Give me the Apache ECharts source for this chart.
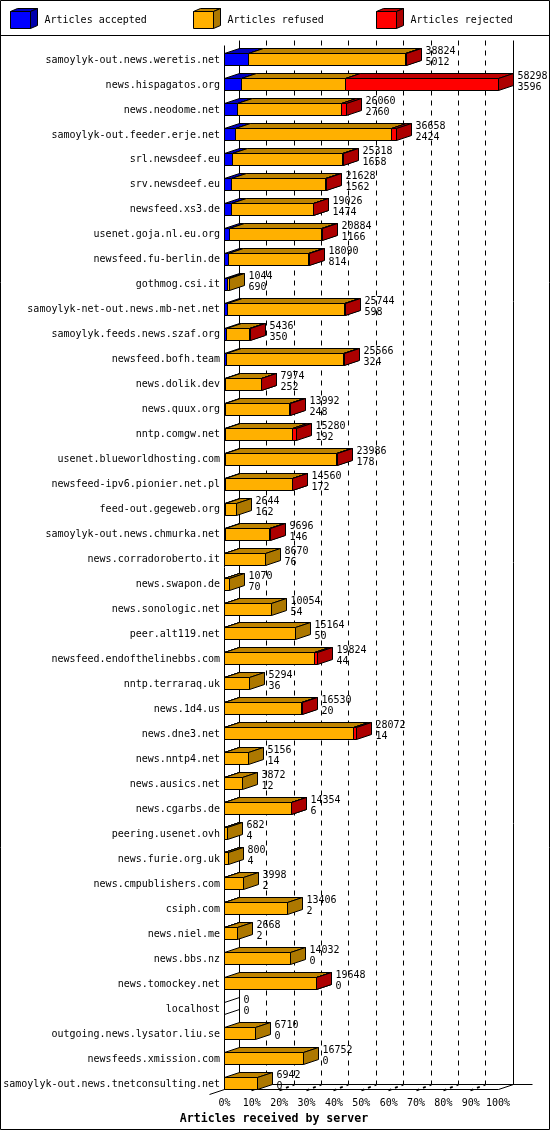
<!DOCTYPE html>
<html>
<head>
<meta charset="utf-8">
<script src="https://cdn.jsdelivr.net/npm/echarts@6/dist/echarts.min.js"></script>
<style>html,body{margin:0;padding:0;background:#fff}#c{width:550px;height:1130px}</style>
</head>
<body>
<div id="c"></div>
<script>
const servers = ['samoylyk-out.news.weretis.net','news.hispagatos.org','news.neodome.net','samoylyk-out.feeder.erje.net','srl.newsdeef.eu','srv.newsdeef.eu','newsfeed.xs3.de','usenet.goja.nl.eu.org','newsfeed.fu-berlin.de','gothmog.csi.it','samoylyk-net-out.news.mb-net.net','samoylyk.feeds.news.szaf.org','newsfeed.bofh.team','news.dolik.dev','news.quux.org','nntp.comgw.net','usenet.blueworldhosting.com','newsfeed-ipv6.pionier.net.pl','feed-out.gegeweb.org','samoylyk-out.news.chmurka.net','news.corradoroberto.it','news.swapon.de','news.sonologic.net','peer.alt119.net','newsfeed.endofthelinebbs.com','nntp.terraraq.uk','news.1d4.us','news.dne3.net','news.nntp4.net','news.ausics.net','news.cgarbs.de','peering.usenet.ovh','news.furie.org.uk','news.cmpublishers.com','csiph.com','news.niel.me','news.bbs.nz','news.tomockey.net','localhost','outgoing.news.lysator.liu.se','newsfeeds.xmission.com','samoylyk-out.news.tnetconsulting.net'];
const received = [38824,58298,26060,36658,25318,21628,19026,20884,18090,1044,25744,5436,25566,7974,13992,15280,23986,14560,2644,9696,8670,1070,10054,15164,19824,5294,16530,28072,5156,3872,14354,682,800,3998,13406,2668,14032,19648,0,6710,16752,6942];
const accepted = [5012,3596,2760,2424,1658,1562,1474,1166,814,690,598,350,324,252,248,192,178,172,162,146,76,70,54,50,44,36,20,14,14,12,6,4,4,2,2,2,0,0,0,0,0,0];
const refused = [33612,22252,22200,33184,23580,20006,17402,19598,17126,354,25046,5046,25022,7692,13694,14388,23608,14348,2482,9500,8594,1000,10000,15114,19130,5258,16480,27408,5142,3860,14318,678,796,3996,13404,2666,14032,19598,0,6710,16752,6942];
const rejected = [200,32450,1100,1050,80,60,150,120,150,0,100,40,220,30,50,700,200,40,0,50,0,0,0,0,650,0,30,650,0,0,30,0,0,0,0,0,0,50,0,0,0,0];
const percentTicks = [0,10,20,30,40,50,60,70,80,90,100];
const legendNames = ['Articles accepted','Articles refused','Articles rejected'];
const axisTitle = 'Articles received by server';
const axisMax = 58298;

const C = {
  accepted: ['#0000ff', '#0000bf', '#0000ad'],
  refused: ['#ffb000', '#bf8400', '#ad7800'],
  rejected: ['#ff0000', '#bf0000', '#ad0000']
};
const MONO = '"DejaVu Sans Mono","Liberation Mono",monospace';
const DX = 15, DY = 5, BH = 12;
const snap = v => Math.floor(v) + 0.5;
const line = (x1, y1, x2, y2, extra) => ({
  type: 'line',
  shape: { x1, y1, x2, y2 },
  style: Object.assign({ stroke: '#000', lineWidth: 1 }, extra || {})
});
const poly = (pts, fill) => ({
  type: 'polygon',
  shape: { points: pts },
  style: { fill, stroke: '#000', lineWidth: 1 }
});

function segmentRenderer(colors, isLast) {
  return function (params, api) {
    const start = api.value(0), end = api.value(1), row = api.value(2);
    const cy = Math.round(api.coord([0, row])[1]);
    const top = cy - BH / 2 + 0.5, bot = cy + BH / 2 + 0.5;
    const x0 = snap(api.coord([start, row])[0]);
    const x1 = snap(api.coord([end, row])[0]);
    if (end === start) {
      if (isLast && end === 0) {
        return { type: 'group', children: [
          line(x0, top, x0 + DX, top - DY),
          line(x0, bot, x0 + DX, bot - DY)
        ]};
      }
      return null;
    }
    return { type: 'group', children: [
      poly([[x0, top], [x0 + DX, top - DY], [x1 + DX, top - DY], [x1, top]], colors[1]),
      poly([[x1, top], [x1 + DX, top - DY], [x1 + DX, bot - DY], [x1, bot]], colors[2]),
      poly([[x0, top], [x1, top], [x1, bot], [x0, bot]], colors[0])
    ]};
  };
}

function frameRenderer(params, api) {
  const pct = api.value(0);
  const x = snap(api.coord([pct / 100 * axisMax, 0])[0]);
  const firstC = Math.round(api.coord([0, 0])[1]);
  const lastC = Math.round(api.coord([0, servers.length - 1])[1]);
  const floorY = lastC + BH / 2 + 0.5;
  const topY = firstC - 14 + 0.5;
  const kids = [];
  const bx = x + DX, by = floorY - DY;
  if (pct === 0 || pct === 100) {
    kids.push(line(bx, topY - DY, bx, by));
    kids.push(line(x, floorY, bx, by));
  } else {
    kids.push(line(bx, topY - DY, bx, by, { lineDash: [5, 5] }));
    kids.push(line(x, floorY + 1, bx, by, { lineDash: [3, 4], lineWidth: 1.8 }));
  }
  if (pct === 0) {
    kids.push(line(x, topY, x, floorY));
    kids.push(line(x - DX, floorY + DY, x, floorY));
    kids.push(line(x, floorY, snap(api.coord([axisMax, 0])[0]), floorY));
    kids.push(line(bx, by, snap(api.coord([axisMax, 0])[0]) + DX + 19, by));
  }
  return { type: 'group', children: kids };
}

function labelRenderer(params, api) {
  const row = api.value(0), total = api.value(1), acc = api.value(2);
  const c = api.coord([total, row]);
  const cy = Math.round(c[1]);
  const x = snap(c[0]) + DX + 4;
  const t = (text, y) => ({
    type: 'text',
    x, y,
    style: { text: String(text), fill: '#000', font: '10px ' + MONO, textAlign: 'left', textVerticalAlign: 'middle' }
  });
  return { type: 'group', children: [t(total, cy - 8), t(acc, cy + 3)] };
}

let cumA = [], cumB = [], cumC = [];
servers.forEach((s, i) => {
  const a = accepted[i], b = a + refused[i], c = b + rejected[i];
  cumA.push([0, a, i]);
  cumB.push([a, b, i]);
  cumC.push([b, c, i]);
});

function legendSwatch(x, colors) {
  const f = [x, 11.5], w = 20, h = 17, dx = 7, dy = 3;
  const p = (pts, fill) => ({ type: 'polygon', shape: { points: pts }, style: { fill, stroke: '#000', lineWidth: 1 } });
  return [
    p([[f[0], f[1]], [f[0] + dx, f[1] - dy], [f[0] + w + dx, f[1] - dy], [f[0] + w, f[1]]], colors[1]),
    p([[f[0] + w, f[1]], [f[0] + w + dx, f[1] - dy], [f[0] + w + dx, f[1] + h - dy], [f[0] + w, f[1] + h]], colors[2]),
    p([[f[0], f[1]], [f[0] + w, f[1]], [f[0] + w, f[1] + h], [f[0], f[1] + h]], colors[0])
  ];
}
const legendText = (x, text) => ({
  type: 'text', x, y: 20,
  style: { text, fill: '#000', font: '10px ' + MONO, textAlign: 'left', textVerticalAlign: 'middle' }
});

const chart = echarts.init(document.getElementById('c'), null, { renderer: 'canvas', width: 550, height: 1130 });
chart.setOption({
  animation: false,
  backgroundColor: '#fff',
  textStyle: { fontFamily: MONO },
  grid: { left: 224.5, right: 51.9, top: 46.5, bottom: 33.5, containLabel: false },
  xAxis: {
    type: 'value', min: 0, max: axisMax, interval: axisMax / 10,
    axisLine: { show: false }, axisTick: { show: false }, splitLine: { show: false },
    axisLabel: {
      color: '#000', fontFamily: MONO, fontSize: 10, margin: 2.5, showMinLabel: true, showMaxLabel: true,
      formatter: v => Math.round(v / axisMax * 100) + '%'
    },
    name: axisTitle, nameLocation: 'middle', nameGap: 14,
    nameTextStyle: { color: '#000', fontFamily: MONO, fontWeight: 'bold', fontSize: 11.6, padding: [0, 0, 0, -174.6] }
  },
  yAxis: {
    type: 'category', inverse: true, data: servers,
    axisLine: { show: false }, axisTick: { show: false }, splitLine: { show: false },
    axisLabel: { color: '#000', fontFamily: MONO, fontSize: 10, margin: 4.5, interval: 0, verticalAlign: 'top', lineHeight: 2 }
  },
  graphic: [
    { type: 'group', silent: true, children: [
      { type: 'rect', shape: { x: 0.5, y: 0.5, width: 549, height: 1129 }, style: { fill: 'none', stroke: '#000', lineWidth: 1 } },
      { type: 'line', shape: { x1: 0, y1: 35.5, x2: 550, y2: 35.5 }, style: { stroke: '#000', lineWidth: 1 } },
      ...legendSwatch(10.5, C.accepted), legendText(44.5, legendNames[0]),
      ...legendSwatch(193.5, C.refused), legendText(227.5, legendNames[1]),
      ...legendSwatch(376.5, C.rejected), legendText(410.5, legendNames[2])
    ]}
  ],
  series: [
    { type: 'custom', name: 'frame', silent: true, z: 1, clip: false, renderItem: frameRenderer, coordinateSystem: 'cartesian2d',
      encode: { x: 0 }, data: percentTicks.map(p => [p]) },
    { type: 'custom', name: legendNames[0], silent: true, z: 3, clip: false, renderItem: segmentRenderer(C.accepted, false),
      encode: { x: [0, 1], y: 2 }, data: cumA },
    { type: 'custom', name: legendNames[1], silent: true, z: 4, clip: false, renderItem: segmentRenderer(C.refused, false),
      encode: { x: [0, 1], y: 2 }, data: cumB },
    { type: 'custom', name: legendNames[2], silent: true, z: 5, clip: false, renderItem: segmentRenderer(C.rejected, true),
      encode: { x: [0, 1], y: 2 }, data: cumC },
    { type: 'custom', name: 'values', silent: true, z: 6, clip: false, renderItem: labelRenderer,
      encode: { x: 1, y: 0 }, data: servers.map((s, i) => [i, received[i], accepted[i]]) }
  ]
});
</script>
</body>
</html>
